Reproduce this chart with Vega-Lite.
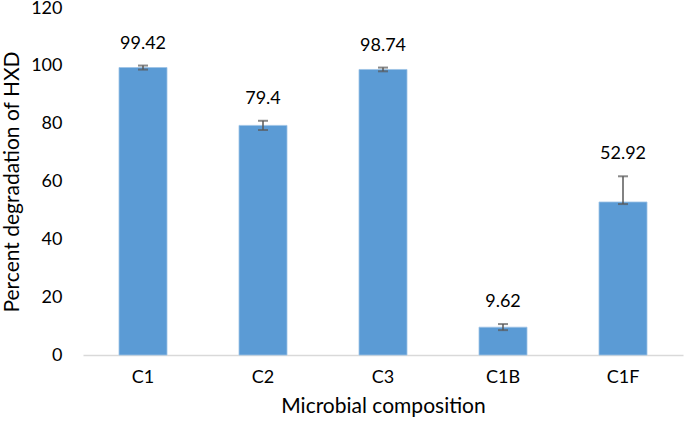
{
  "$schema": "https://vega.github.io/schema/vega-lite/v6.json",
  "width": 600,
  "height": 347,
  "autosize": {"type": "none"},
  "padding": {"left": 83, "top": 8, "right": 2, "bottom": 76},
  "background": "white",
  "config": {
    "view": {"stroke": null},
    "font": "Lato",
    "text": {"font": "Lato"}
  },
  "data": {
    "values": [
      {"composition": "C1", "degradation": 99.42, "lo": 98.7, "hi": 100.1},
      {"composition": "C2", "degradation": 79.4, "lo": 77.8, "hi": 81.0},
      {"composition": "C3", "degradation": 98.74, "lo": 98.1, "hi": 99.4},
      {"composition": "C1B", "degradation": 9.62, "lo": 8.6, "hi": 10.7},
      {"composition": "C1F", "degradation": 52.92, "lo": 52.2, "hi": 61.8}
    ]
  },
  "encoding": {
    "x": {
      "field": "composition",
      "type": "nominal",
      "sort": null,
      "scale": {"paddingInner": 0.6, "paddingOuter": 0.3},
      "axis": {
        "title": "Microbial composition",
        "labelAngle": 0,
        "labelFont": "Lato",
        "labelFontSize": 18,
        "labelColor": "#000000",
        "labelPadding": 13,
        "ticks": false,
        "domainColor": "#D9D9D9",
        "domainWidth": 1.5,
        "titleFont": "Lato",
        "titleFontSize": 21,
        "titleFontWeight": "normal",
        "titleColor": "#000000",
        "titlePadding": 9
      }
    }
  },
  "layer": [
    {
      "mark": {"type": "bar", "color": "#5B9BD5", "stroke": "#9DC3E6", "strokeWidth": 0.8},
      "encoding": {
        "y": {
          "field": "degradation",
          "type": "quantitative",
          "scale": {"domain": [0, 120]},
          "axis": {
            "title": "Percent degradation of HXD",
            "values": [0, 20, 40, 60, 80, 100, 120],
            "grid": false,
            "domain": false,
            "ticks": false,
            "labelFont": "Lato",
            "labelFontSize": 18,
            "labelColor": "#000000",
            "labelPadding": 21,
            "titleFont": "Lato",
            "titleFontSize": 21,
            "titleFontWeight": "normal",
            "titleColor": "#000000",
            "titlePadding": 8
          }
        }
      }
    },
    {
      "mark": {"type": "rule", "color": "#595959", "strokeWidth": 1.5},
      "encoding": {
        "y": {"field": "lo", "type": "quantitative"},
        "y2": {"field": "hi"}
      }
    },
    {
      "mark": {"type": "tick", "color": "#595959", "thickness": 2, "size": 10},
      "encoding": {
        "y": {"field": "lo", "type": "quantitative"}
      }
    },
    {
      "mark": {"type": "tick", "color": "#595959", "thickness": 2, "size": 10},
      "encoding": {
        "y": {"field": "hi", "type": "quantitative"}
      }
    },
    {
      "mark": {"type": "text", "baseline": "bottom", "dy": -13, "fontSize": 18, "color": "#000000", "font": "Lato"},
      "encoding": {
        "y": {"field": "hi", "type": "quantitative"},
        "text": {"field": "degradation", "type": "quantitative"}
      }
    }
  ]
}
